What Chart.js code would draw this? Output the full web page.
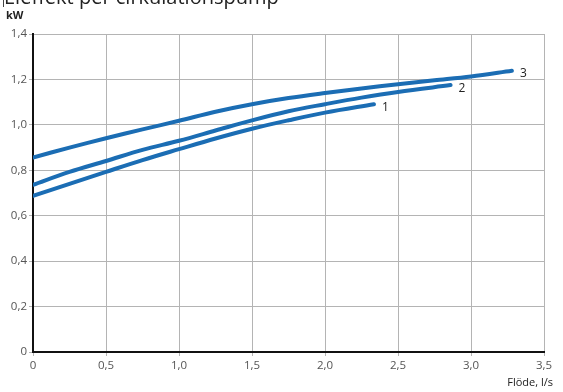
<!DOCTYPE html>
<html>
<head>
<meta charset="utf-8">
<script src="https://cdn.jsdelivr.net/npm/chart.js@4/dist/chart.umd.min.js"></script>
<style>
  html,body{margin:0;padding:0;background:#fff;overflow:hidden;}
  #wrap{position:relative;width:563px;height:392px;font-family:"Open Sans",sans-serif;}
  #title{position:absolute;left:4px;top:-13px;font-size:20px;color:#222;white-space:nowrap;line-height:20px;}
  #bar{position:absolute;left:3px;top:0;width:1px;height:7px;background:#444;}
  #unit{position:absolute;left:6px;top:7px;font-size:11px;font-weight:bold;color:#222;}
  #xname{position:absolute;right:10px;top:374px;font-size:11px;color:#222;}
  canvas{position:absolute;left:0;top:0;}
</style>
</head>
<body>
<div id="wrap">
  <canvas id="c" width="563" height="392"></canvas>
  <div id="bar"></div>
  <div id="title">Eleffekt per cirkulationspump</div>
  <div id="unit">kW</div>
  <div id="xname">Flöde, l/s</div>
</div>
<script>
// flow (l/s) and power (kW) per pump curve
const flow1  = [0, 0.25, 0.5, 0.75, 1.0, 1.25, 1.5, 1.75, 2.0, 2.335];
const power1 = [0.687, 0.74, 0.793, 0.845, 0.893, 0.94, 0.983, 1.02, 1.054, 1.091];
const flow2  = [0, 0.25, 0.5, 0.75, 1.0, 1.25, 1.5, 1.75, 2.0, 2.25, 2.5, 2.86];
const power2 = [0.736, 0.793, 0.841, 0.89, 0.93, 0.975, 1.02, 1.06, 1.091, 1.12, 1.145, 1.175];
const flow3  = [0, 0.25, 0.5, 0.75, 1.0, 1.25, 1.5, 1.75, 2.0, 2.25, 2.5, 2.75, 3.0, 3.28];
const power3 = [0.856, 0.90, 0.941, 0.98, 1.018, 1.058, 1.091, 1.118, 1.14, 1.16, 1.179, 1.196, 1.213, 1.238];
const curveNames = ['1', '2', '3'];
const xTicks = [0, 0.5, 1.0, 1.5, 2.0, 2.5, 3.0, 3.5];
const yTicks = [0, 0.2, 0.4, 0.6, 0.8, 1.0, 1.2, 1.4];

const blue = '#1b6db4';
const pts = (xs, ys) => xs.map((x, i) => ({x, y: ys[i]}));
const fmt = v => v === 0 ? '0' : v.toFixed(1).replace('.', ',');

// write the curve number just past the end of each line
const endLabels = {
  id: 'endLabels',
  afterDatasetsDraw(chart){
    const ctx = chart.ctx;
    ctx.save();
    ctx.font = '12px "Open Sans", sans-serif';
    ctx.fillStyle = '#222';
    ctx.textBaseline = 'middle';
    chart.data.datasets.forEach((ds, i) => {
      const els = chart.getDatasetMeta(i).data;
      const last = els[els.length - 1];
      ctx.fillText(curveNames[i], last.x + 8, last.y + 3);
    });
    ctx.restore();
  }
};

const lineStyle = {borderColor: blue, borderWidth: 4, pointRadius: 0, tension: 0.35, fill: false, borderCapStyle: 'round'};

new Chart(document.getElementById('c'), {
  type: 'line',
  data: {
    datasets: [
      {label: curveNames[0], data: pts(flow1, power1), ...lineStyle},
      {label: curveNames[1], data: pts(flow2, power2), ...lineStyle},
      {label: curveNames[2], data: pts(flow3, power3), ...lineStyle}
    ]
  },
  options: {
    responsive: false,
    animation: false,
    layout: {padding: {left: 0, top: 34, right: 19, bottom: 0}},
    plugins: {legend: {display: false}, tooltip: {enabled: false}},
    scales: {
      x: {
        type: 'linear', min: 0, max: 3.5,
        afterBuildTicks: s => { s.ticks = xTicks.map(v => ({value: v})); },
        afterFit: s => { s.height = 40; },
        ticks: {callback: fmt, color: '#555', font: {family: '"Open Sans", sans-serif', size: 11.5}, padding: 3, maxRotation: 0},
        grid: {color: '#b4b4b4', lineWidth: 1, tickLength: 4},
        border: {color: '#111', width: 2}
      },
      y: {
        min: 0, max: 1.4,
        afterBuildTicks: s => { s.ticks = yTicks.map(v => ({value: v})); },
        afterFit: s => { s.width = 33; },
        ticks: {callback: fmt, color: '#555', font: {family: '"Open Sans", sans-serif', size: 11.5}, padding: 2},
        grid: {color: '#b4b4b4', lineWidth: 1, tickLength: 4},
        border: {color: '#111', width: 2}
      }
    }
  },
  plugins: [endLabels]
});
</script>
</body>
</html>
